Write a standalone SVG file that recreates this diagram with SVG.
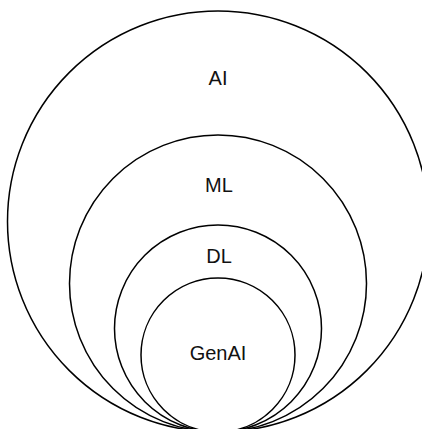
<svg xmlns="http://www.w3.org/2000/svg" width="422" height="429" viewBox="0 0 422 429">
  <style>
    .ring { fill: none; stroke: #000; stroke-width: 1.5; }
    .label { font-family: "Liberation Sans", Arial, sans-serif; font-size: 20px; fill: #111; text-anchor: middle; }
  </style>
  <rect width="422" height="429" fill="#fff"/>
  <!-- Nested circles, all tangent at a shared point below the bottom edge -->
  <g id="ai">
    <circle class="ring" cx="218" cy="221.5" r="210.5"/>
    <text class="label" x="218" y="85">AI</text>
  </g>
  <g id="ml">
    <circle class="ring" cx="218" cy="283.5" r="148.5"/>
    <text class="label" x="219" y="192">ML</text>
  </g>
  <g id="dl">
    <circle class="ring" cx="218" cy="328.5" r="103.5"/>
    <text class="label" x="219" y="263">DL</text>
  </g>
  <g id="genai">
    <circle class="ring" cx="218" cy="355" r="77"/>
    <text class="label" x="218" y="360">GenAI</text>
  </g>
</svg>
